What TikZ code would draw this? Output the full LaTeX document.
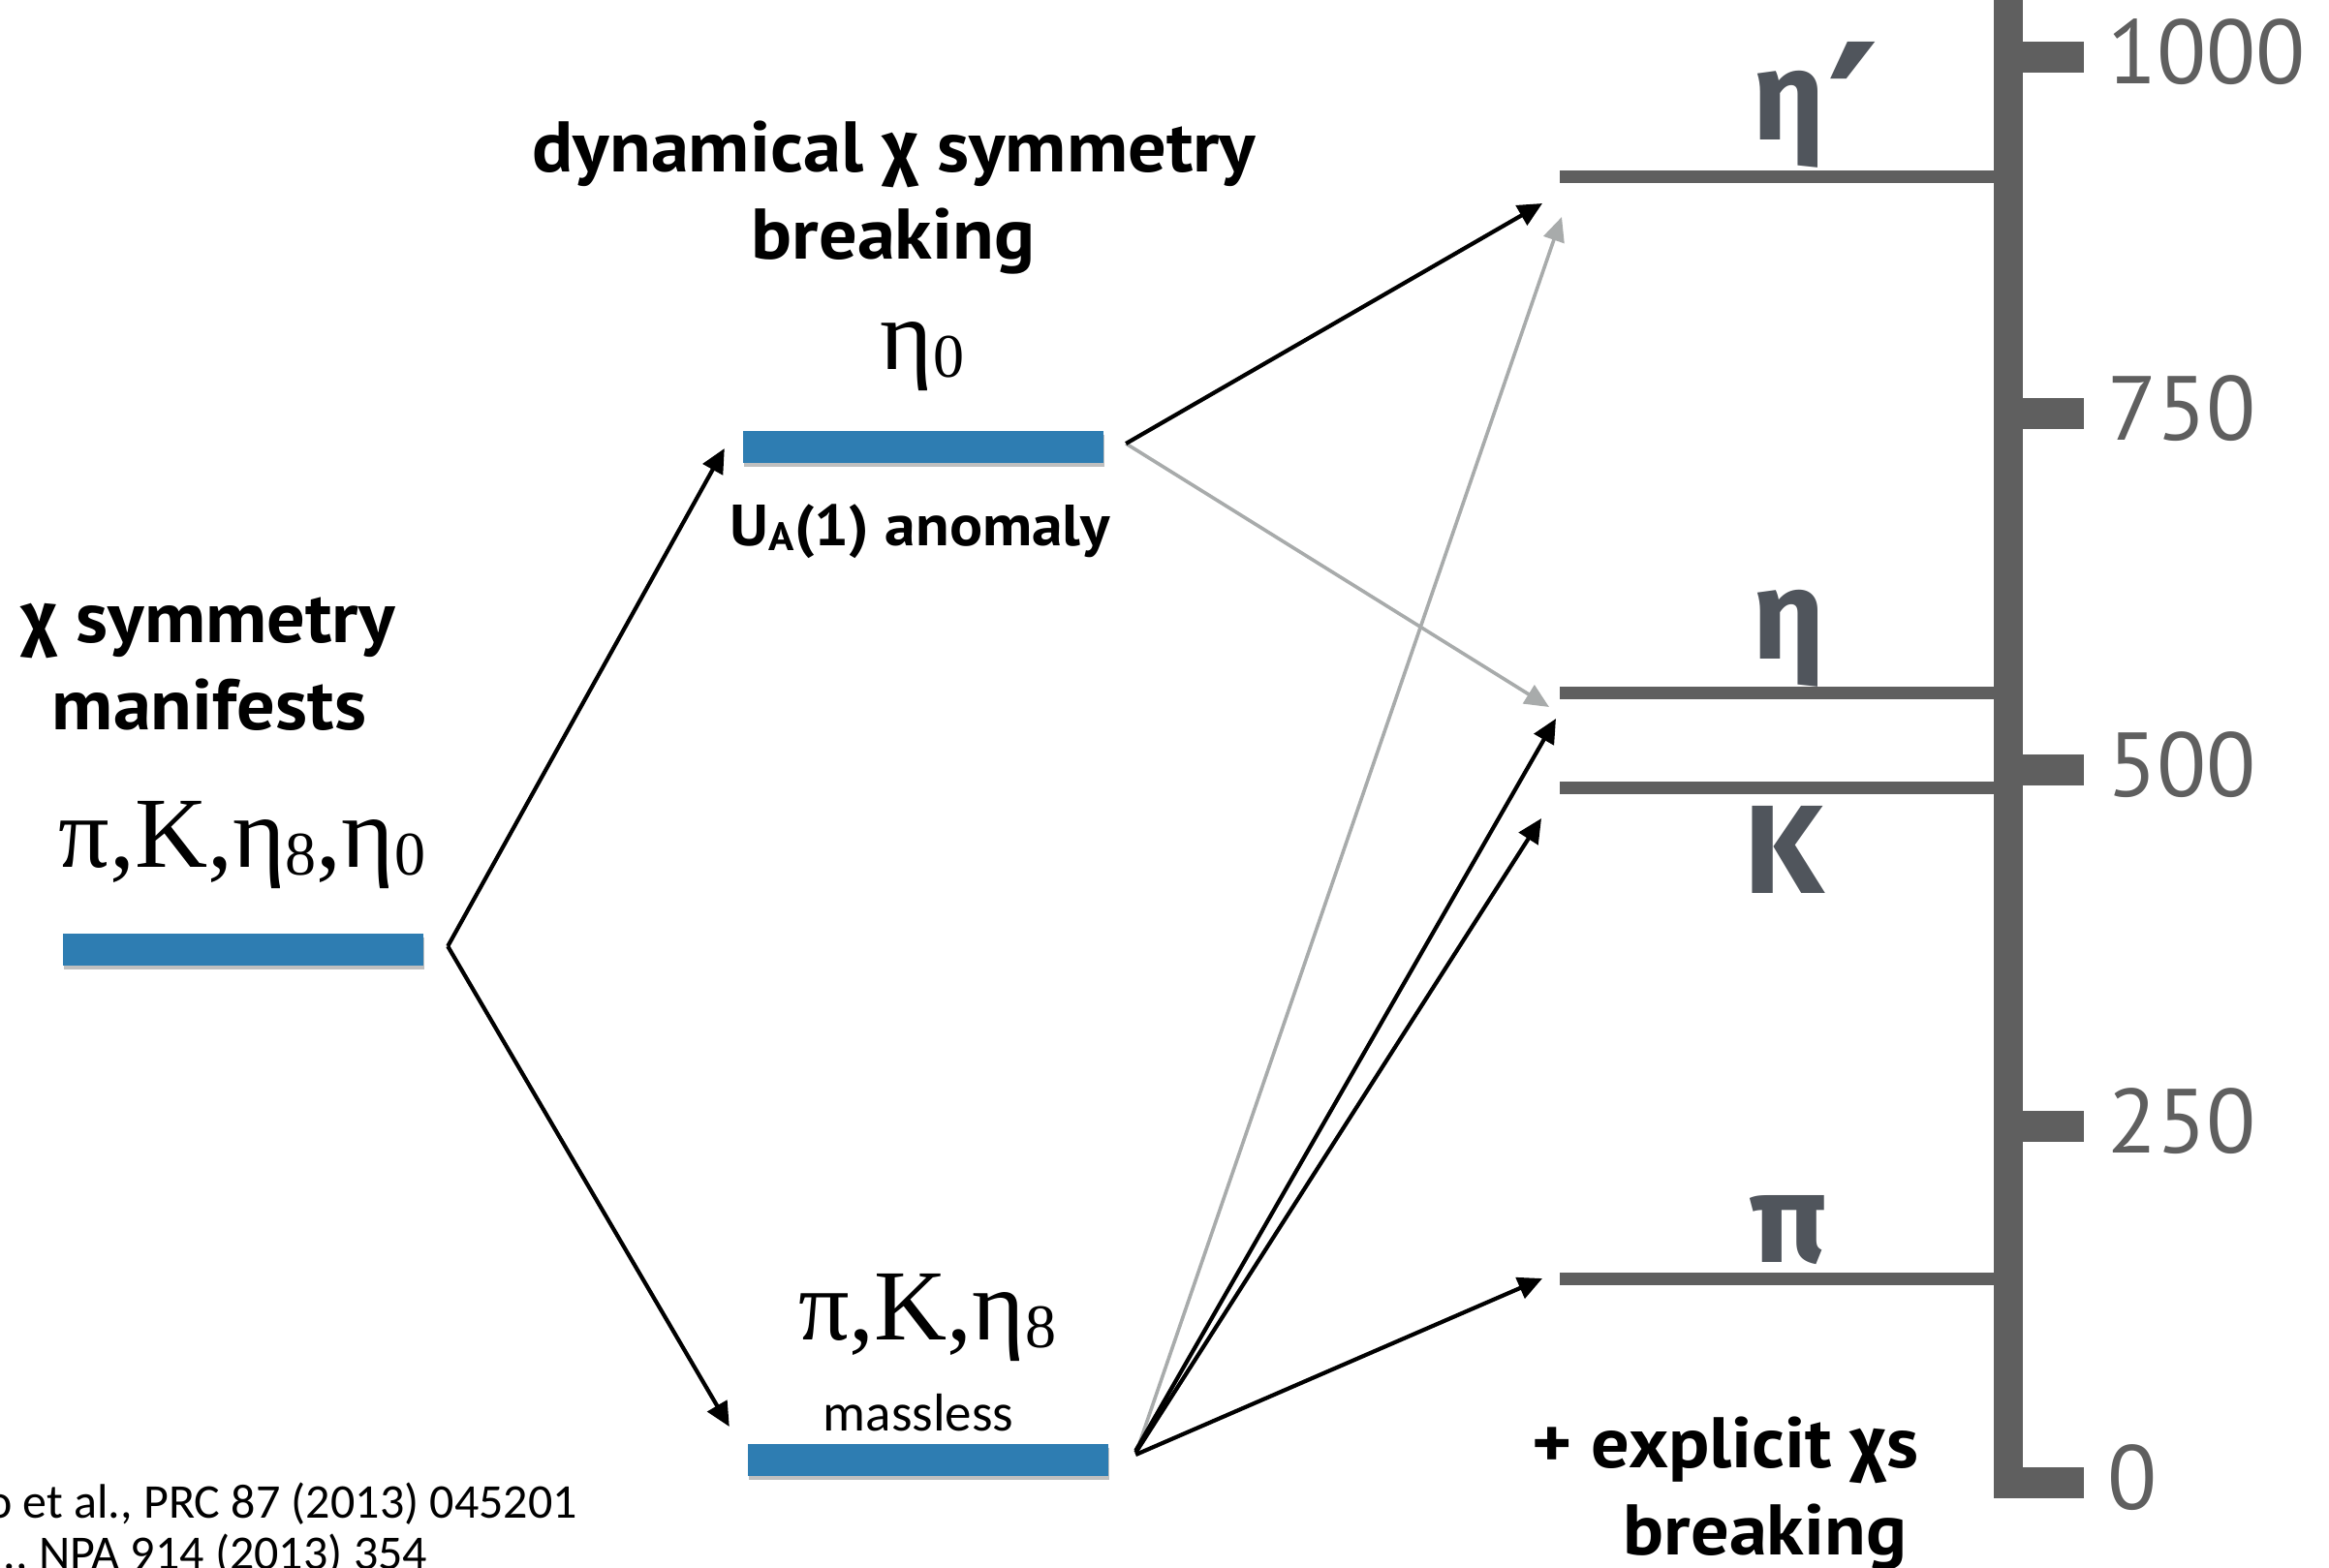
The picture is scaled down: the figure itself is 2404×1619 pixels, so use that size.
\documentclass[tikz,border=0pt]{standalone}
\usepackage{fontspec}
\setmainfont{Liberation Serif}
\newfontfamily\hsans{PT Sans}
\newfontfamily\hsansw[FakeStretch=1.06]{PT Sans}
\newfontfamily\grk{Fira Sans}
\newfontfamily\djv{DejaVu Sans}
\newfontfamily\gill{Carlito}
\usetikzlibrary{arrows.meta,shadows,calc}
\definecolor{barblue}{RGB}{46,125,178}
\definecolor{axgray}{RGB}{95,95,95}
\definecolor{lblgray}{RGB}{80,85,92}
\definecolor{arrgray}{RGB}{168,171,171}
\newcommand\lowsub[1]{\raisebox{-8pt}{\fontsize{64}{64}\selectfont #1}}
\begin{document}
\begin{tikzpicture}[x=1pt,y=-1pt,
  bar/.style={fill=barblue, inner sep=0pt, minimum width=372pt, minimum height=33pt,
    drop shadow={shadow xshift=1pt, shadow yshift=-4pt, opacity=.25, fill=black}},
  level/.style={fill=axgray, inner sep=0pt, minimum width=448pt, minimum height=13pt, anchor=west},
  ticklbl/.style={anchor=base west, inner sep=0pt, text=axgray, font=\hsans\fontsize{94}{94}\selectfont},
  lvllbl/.style={anchor=base west, inner sep=0pt, text=lblgray, font=\grk\bfseries\fontsize{130}{130}\selectfont},
  head/.style={anchor=base, inner sep=0pt, font=\hsansw\bfseries\fontsize{74}{90}\selectfont},
  serif/.style={anchor=base, inner sep=0pt, font=\fontsize{104}{110}\selectfont},
  cite/.style={anchor=base west, inner sep=0pt, font=\gill\fontsize{50}{53}\selectfont},
  blk/.style={draw=black, line width=4.2pt, -{Triangle[length=25pt,width=23pt]}},
  gry/.style={draw=arrgray, line width=3.6pt, -{Triangle[length=25pt,width=22pt]}},
]
\useasboundingbox (0,0) rectangle (2404,1619);
\fill[white] (0,0) rectangle (2404,1619);

% axis
\fill[axgray] (2058,0) rectangle (2088,1547);
\foreach \c/\t in {59/1000,427/750,795/500,1163/250,1531/0}{
  \fill[axgray] (2088,\c-16) rectangle (2151,\c+16);
  \node[ticklbl] at (2175,\c+27) {\t};
}

% level lines
\node[level] (Lp)  at (1610,182) {};
\node[level] (Le)  at (1610,715) {};
\node[level] (Lk)  at (1610,813) {};
\node[level] (Lpi) at (1610,1320) {};
\node[lvllbl] (lp)  at (1808,144) {η{\djv\fontsize{210}{210}\selectfont\kern2pt\raisebox{-52pt}{′}}};
\node[lvllbl] (le)  at (1808,680) {η};
\node[lvllbl] (lk)  at (1800,922) {K};
\node[lvllbl] (lpi) at (1806,1303) {π};

% bars
\node[bar] (b0) at (251,980.5) {};
\node[bar] (b1) at (953,461) {};
\node[bar] (b2) at (958,1507) {};

% texts
\node[head] (h1) at (215,663) {{\grk χ} symmetry};
\node[head] (h2) at (216,753) {manifests};
\node[head] (d1) at (923,177) {dynamical {\grk χ} symmetry};
\node[head] (d2) at (922,267) {breaking};
\node[head] (e1) at (1781,1515) {+ explicit {\grk χ}s};
\node[head] (e2) at (1822,1605) {breaking};
\node[anchor=base, inner sep=0pt, font=\hsansw\bfseries\fontsize{60}{60}\selectfont] (ua) at (950,563)
  {U\raisebox{-5pt}{\fontsize{41}{41}\selectfont A}(1) anomaly};
\node[anchor=base, inner sep=0pt, font=\gill\fontsize{55}{55}\selectfont] (ml) at (948,1477) {massless};
\node[serif] (m0) at (250,895) {π,K,η\lowsub{8},η\lowsub{0}};
\node[serif] (m1) at (952,381) {η\lowsub{0}};
\node[serif] (m2) at (957,1383) {π,K,η\lowsub{8}};
\node[cite] (c1) at (-14,1567) {o et al., PRC 87 (2013) 045201};
\node[cite] (c2) at (-8,1620) {l., NPA 914 (2013) 354};

% arrow anchors
\coordinate (s0) at ($(b0.east)+(25,-3.5)$);
\coordinate (s1) at ($(b1.east)+(23,-3)$);
\coordinate (s2) at ($(b2.east)+(28,-5)$);
\coordinate (tA) at ($(b1.west)+(-19,2)$);
\coordinate (tB) at ($(b2.west)+(-19,-34)$);
\coordinate (tPb) at ($(Lp.west)+(-18,28)$);
\coordinate (tPg) at ($(Lp.west)+(2,42)$);
\coordinate (tEg) at ($(Le.west)+(-11,15)$);
\coordinate (tEb) at ($(Le.west)+(-4,27)$);
\coordinate (tK) at ($(Lk.west)+(-19,32)$);
\coordinate (tPi) at ($(Lpi.west)+(-18,0)$);

% arrows
\draw[gry] (s1) -- (tEg);
\draw[gry] ($(s2)+(4,-12)$) -- (tPg);
\draw[blk] (s0) -- (tA);
\draw[blk] (s0) -- (tB);
\draw[blk] (s1) -- (tPb);
\draw[blk] ($(s2)+(0,-4)$) -- (tEb);
\draw[blk] ($(s2)+(0,-2)$) -- (tK);
\draw[blk] (s2) -- (tPi);
\end{tikzpicture}
\end{document}
